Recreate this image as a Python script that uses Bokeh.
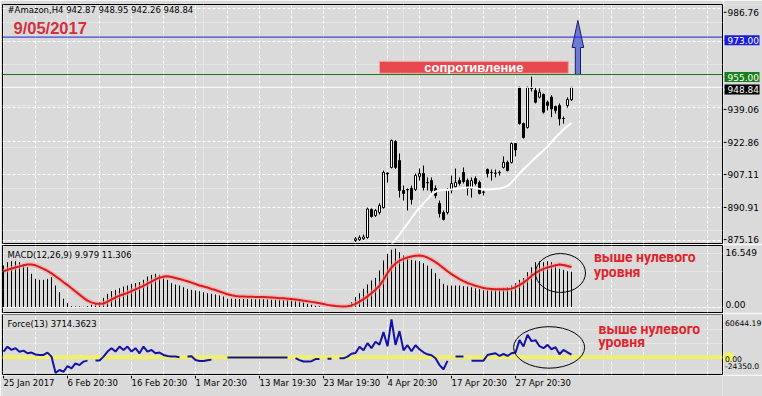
from bokeh.plotting import figure
from bokeh.models import Range1d, FixedTicker, Grid, Span, ColumnDataSource
from bokeh.layouts import column, row
from bokeh.embed import file_html
from bokeh.resources import INLINE
from bokeh.core.properties import value

NaN = float("nan")

# ---------------- data ----------------
symbol_header = "#Amazon,H4  942.87 948.95 942.26 948.84"
date_text = "9/05/2017"
macd_header = "MACD(12,26,9) 9.979 11.306"
force_header = "Force(13) 3714.3623"

candle_start = 88
c_open = [875.2, 875.5, 876.0, 876.6, 890.1, 887.2, 888.6, 891.0, 907.6, 910.3,
          922.8, 913.6, 899.2, 899.7, 900.2, 899.7, 906.0, 907.4, 903.1, 904.0,
          900.2, 893.0, 888.6, 888.6, 899.2, 901.1, 904.0, 907.9, 904.0, 900.2,
          905.0, 903.1, 898.5, 909.3, 907.9, 907.6, 907.9, 910.3, 912.8, 912.7,
          921.8, 948.8, 931.4, 929.5, 948.8, 947.3, 944.1, 945.4, 941.7, 944.1,
          939.6, 940.1, 933.9, 940.1, 942.87]
c_high = [876.8, 877.6, 878.0, 891.0, 890.6, 890.3, 893.0, 908.8, 907.9, 923.7,
          923.4, 917.0, 901.6, 900.2, 901.6, 907.4, 909.8, 911.2, 905.5, 905.5,
          901.6, 894.4, 889.6, 900.2, 906.4, 909.8, 905.5, 910.3, 905.0, 905.5,
          906.0, 904.0, 899.2, 909.8, 909.3, 909.3, 908.8, 915.6, 913.6, 922.3,
          922.1, 949.2, 931.9, 949.2, 954.0, 948.8, 948.3, 945.9, 942.5, 945.0,
          940.1, 941.1, 934.8, 944.0, 948.95]
c_low = [874.5, 875.0, 875.5, 876.0, 886.2, 886.5, 887.7, 890.5, 903.0, 909.8,
         909.5, 895.8, 894.4, 889.6, 892.5, 899.0, 904.0, 899.2, 899.2, 898.2,
         895.4, 886.2, 884.8, 887.7, 897.8, 900.7, 901.6, 902.6, 896.8, 895.8,
         901.6, 897.3, 896.8, 905.5, 904.0, 905.5, 906.4, 909.8, 908.4, 912.2,
         915.6, 930.9, 924.2, 929.0, 946.8, 941.1, 943.5, 936.2, 937.7, 934.5,
         936.2, 930.5, 931.4, 939.1, 942.26]
c_close = [876.0, 876.6, 876.9, 890.3, 886.7, 889.6, 892.0, 907.9, 907.2, 923.3,
           910.3, 899.2, 897.8, 899.5, 894.9, 906.4, 907.4, 900.7, 902.9, 899.2,
           896.8, 888.2, 885.3, 899.2, 902.6, 903.1, 902.6, 903.5, 900.2, 904.0,
           902.6, 897.8, 898.4, 907.4, 907.8, 907.5, 907.8, 912.8, 908.8, 921.8,
           918.7, 931.4, 924.7, 948.8, 948.3, 941.7, 946.5, 936.9, 940.1, 938.5,
           937.7, 933.7, 933.8, 943.0, 948.84]

ma_start = 97
ma_vals = [873.2, 875.6, 878.0, 880.7, 883.3, 886.0, 888.6, 890.8, 893.0, 895.1,
           897.3, 898.7, 899.2, 899.4, 899.5, 899.7, 900.0, 900.2, 900.4, 900.7,
           900.7, 900.4, 900.0, 899.7, 899.7, 899.8, 900.0, 900.2, 900.7, 901.4,
           903.1, 905.2, 907.4, 909.5, 911.2, 913.2, 915.1, 916.8, 918.5, 920.4,
           922.5, 924.7, 926.6, 928.6, 930.2, 931.7]

macd_main = [11.74, 12.67, 12.96, 12.96, 12.67, 12.02, 11.26, 9.39, 7.98, 7.69,
             7.69, 7.98, 8.43, 6.08, 4.19, 2.32, 1.07, 0.23, 0.14, 0.14,
             0.05, 0.23, 0.71, 0.91, 1.36, 2.60, 3.73, 4.47, 4.87, 5.32,
             5.80, 6.08, 6.56, 6.73, 7.02, 7.69, 8.63, 9.11, 9.39, 9.11,
             8.43, 7.69, 6.73, 6.37, 6.08, 5.60, 5.15, 4.87, 4.67, 4.47,
             4.19, 3.90, 3.73, 3.54, 3.25, 2.97, 2.32, 2.35, 2.32, 2.30,
             2.32, 2.28, 2.30, 2.27, 2.25, 2.22, 2.20, 2.12, 2.12, 2.10,
             2.04, 2.00, 1.92, 1.84, 1.64, 1.36, 0.91, 0.62, 0.34, 0.23,
             0.08, 0.02, 0.02, 0.02, 0.02, 0.14, 0.42, 1.36, 2.77, 3.90,
             5.15, 6.37, 7.50, 8.26, 10.33, 13.15, 15.05, 16.20, 16.549, 15.50,
             14.57, 13.64, 13.35, 13.15, 12.96, 12.39, 11.74, 10.81, 9.56, 7.98,
             6.56, 6.08, 6.08, 6.08, 6.08, 5.88, 5.80, 5.60, 5.32, 5.15,
             4.87, 4.87, 4.95, 5.04, 5.15, 5.43, 5.60, 6.08, 6.73, 7.69,
             8.15, 9.84, 11.26, 12.67, 12.96, 12.67, 12.96, 12.67, 11.74, 10.81,
             10.52, 10.13, 9.979]

macd_signal = [10.1, 10.5, 10.9, 11.2, 11.5, 11.8, 12.0, 12.0, 11.8, 11.3,
               10.8, 10.2, 9.5, 8.7, 7.9, 7.0, 6.2, 5.3, 4.4, 3.5,
               2.6, 1.8, 1.3, 0.95, 0.9, 1.0, 1.5, 2.1, 2.7, 3.2,
               3.6, 4.0, 4.5, 5.0, 5.5, 6.0, 6.6, 7.2, 7.8, 8.3,
               8.6, 8.7, 8.5, 8.2, 7.9, 7.6, 7.3, 6.9, 6.5, 6.1,
               5.8, 5.5, 5.1, 4.8, 4.4, 4.0, 3.6, 3.3, 3.1, 3.0,
               2.95, 2.9, 2.9, 2.85, 2.8, 2.8, 2.75, 2.7, 2.6, 2.5,
               2.45, 2.35, 2.25, 2.1, 1.95, 1.8, 1.6, 1.45, 1.25, 1.05,
               0.85, 0.6, 0.45, 0.3, 0.2, 0.15, 0.2, 0.45, 0.9, 1.5,
               2.2, 3.0, 3.9, 4.9, 6.0, 7.7, 9.6, 11.2, 12.3, 13.1,
               13.6, 14.0, 14.3, 14.5, 14.55, 14.4, 14.0, 13.4, 12.7, 11.9,
               11.0, 10.1, 9.3, 8.6, 7.9, 7.3, 6.8, 6.4, 6.0, 5.7,
               5.4, 5.2, 5.1, 5.0, 5.0, 5.0, 5.05, 5.2, 5.6, 6.2,
               6.9, 7.8, 8.8, 9.6, 10.3, 10.8, 11.2, 11.5, 11.8, 12.0,
               11.9, 11.6, 11.306]

force_vals = [8000, 15000, 10500, 13000, 8000, 9500, 5700, 6700, 4000, 3300,
              3300, 6700, 1000, -22000, -18000, -20400, -12400, -15700, -8600, -11000,
              -6100, -4700, NaN, -4500, -4500, 1000, 8100, 12900, 8100, 15300,
              10400, 15300, 8100, 12900, 5700, 15300, 8100, 10400, 5700, 6700,
              3300, 1900, 1000, 1000, 0, NaN, 1000, 1400, -3900, -5300,
              -5300, -4300, -3300, NaN, -2000, NaN, -400, -400, -400, -400,
              -400, -400, -400, -400, -400, -400, -400, -400, -400, -400,
              -400, -400, NaN, -1000, -4000, -6000, -6000, -5500, -2500, -2500,
              NaN, -2000, -2000, NaN, -1500, -1500, 1000, 5000, 6000, 15000,
              10000, 20000, 13000, 22000, 18000, 35700, 15700, 53600, 17600, 37100,
              10000, 17100, 8600, 17100, 11400, 7100, 4300, 2900, -1400, -11000,
              -17000, -5000, NaN, 1000, 1000, 1200, NaN, -4700, -4700, -4700,
              -4700, 3300, 4700, 5700, 1900, 4700, 1900, 5700, 6700, 24300,
              15300, 31900, 22900, 24300, 15700, 12900, 17600, 11400, 14300, 4300,
              10400, 7100, 3714.36]

x_tick_bars = [0, 16, 32, 48, 64, 80, 96, 112, 128]
x_tick_labels = ["25 Jan 2017", "6 Feb 20:30", "16 Feb 20:30", "1 Mar 20:30",
                 "13 Mar 19:30", "23 Mar 19:30", "4 Apr 20:30", "17 Apr 20:30",
                 "27 Apr 20:30"]
grid_bars = list(range(8, 180, 8))
price_ticks = [875.16, 890.91, 907.11, 922.86, 939.06, 986.76]
price_grid = [875.16, 890.91, 907.11, 922.86, 939.06, 971.01, 986.76]
level_blue = 973.00
level_green = 955.00
bid_price = 948.84
macd_max = 16.549
force_max = 60644.19
force_min = -24350.0

# ---------------- placement constants ----------------
x_start, x_end = -0.25, 179.75
main_lo, main_hi = 873.72, 988.68
macd_lo, macd_hi = -1.556, 17.40
res_left, res_right, res_bottom, res_top = 94.0, 141.2, 955.6, 961.3
res_text = "сопротивление"
arrow_x, arrow_base, arrow_neck, arrow_tip = 143.6, 955.0, 968.0, 981.0
note_line1, note_line2 = "выше нулевого", "уровня"
macd_note_x, macd_note_y = 147.6, (14.26, 10.0)
force_note_x, force_note_y = 148.75, (40660, 22240)
macd_ell = (139.25, 9.62, 12.5, 11.0)
force_ell = (136.4, 14000, 17.75, 58800)
head_x = 1.0
main_head_y, date_x, date_y = 985.8, 2.5, 977.3
macd_head_y = 14.85
force_head_y = 47170
macd_lab_y = (15.70, 0.42)
force_lab_y = (49300, -2700, -13030)

BG = "#dadada"
RED_TXT = "#e0232b"
FONT = "DejaVu Sans"
BFONT = "Liberation Sans"
DASH = "3 2"

W_LEFT, W_AX = 723, 39
H_MAIN, H_MACD, H_FORCE, H_XLAB = 244, 69, 62, 21
B_MAIN, B_MACD, B_FORCE = (4, 1), (1, 1), (1, 1)   # (top, bottom) borders

xr = Range1d(x_start, x_end)


def panel(height, lo, hi, border):
    p = figure(width=W_LEFT, height=height, x_range=xr, y_range=Range1d(lo, hi),
               output_backend="svg", toolbar_location=None, tools="",
               x_axis_location=None, y_axis_location=None,
               background_fill_color=BG, border_fill_color=BG,
               outline_line_color="black", outline_line_width=1,
               min_border_left=2, min_border_right=1,
               min_border_top=border[0], min_border_bottom=border[1])
    p.add_layout(Grid(dimension=0, ticker=FixedTicker(ticks=grid_bars),
                      grid_line_color="white", grid_line_dash=DASH))
    return p


def axis_panel(height, lo, hi, border):
    frame = height - border[0] - border[1]
    s = (hi - lo) / frame
    p = figure(width=W_AX, height=height, x_range=Range1d(0, W_AX),
               y_range=Range1d(lo - border[1] * s, hi + border[0] * s),
               output_backend="svg", toolbar_location=None, tools="",
               x_axis_location=None, y_axis_location=None,
               background_fill_color=BG, border_fill_color=BG,
               outline_line_color=None,
               min_border_left=0, min_border_right=0,
               min_border_top=0, min_border_bottom=0)
    p.xgrid.visible = False
    p.ygrid.visible = False
    return p


def ax_text(p, ys, texts, color="black", size="9px", x=4):
    p.text(x=[x] * len(ys), y=ys, text=texts, text_font=value(FONT),
           text_font_size=size, text_color=color, text_align="left",
           text_baseline="middle")


# ---------------- main price panel ----------------
main = panel(H_MAIN, main_lo, main_hi, B_MAIN)
main.add_layout(Grid(dimension=1, ticker=FixedTicker(ticks=price_grid),
                     grid_line_color="white", grid_line_dash=DASH))
for lvl, col in [(level_blue, "#2222d4"), (level_green, "#1a761a"), (bid_price, "white")]:
    main.add_layout(Span(location=lvl, dimension="width", line_color=col, line_width=1))

bars = list(range(candle_start, candle_start + len(c_open)))
body_top = [max(o, c) for o, c in zip(c_open, c_close)]
body_bot = [min(o, c) for o, c in zip(c_open, c_close)]
body_col = ["white" if c >= o else "black" for o, c in zip(c_open, c_close)]
csrc = ColumnDataSource(dict(x=bars, hi=c_high, lo=c_low, top=body_top,
                             bot=body_bot, col=body_col))
main.segment(x0="x", y0="lo", x1="x", y1="hi", source=csrc, line_color="black", line_width=1)
main.vbar(x="x", width=0.5, top="top", bottom="bot", source=csrc,
          fill_color="col", line_color="black", line_width=1)

ma_x = list(range(ma_start, ma_start + len(ma_vals)))
main.line(ma_x, ma_vals, line_color="white", line_width=2)

main.quad(left=res_left, right=res_right, bottom=res_bottom, top=res_top,
          fill_color="#e6484e", line_color="#f3a0a0", line_width=1)
main.text(x=[(res_left + res_right) / 2], y=[(res_bottom + res_top) / 2], text=[res_text],
          text_font=value(BFONT), text_font_style="bold", text_font_size="13px",
          text_color="white", text_align="center", text_baseline="middle")

sh, hh = 0.65, 1.45
main.patch([arrow_x - sh, arrow_x - sh, arrow_x - hh, arrow_x, arrow_x + hh, arrow_x + sh, arrow_x + sh],
           [arrow_base, arrow_neck, arrow_neck, arrow_tip, arrow_neck, arrow_neck, arrow_base],
           fill_color="#6d7bd6", line_color="#1c1c5c", line_width=1)

main.text(x=[head_x], y=[main_head_y], text=[symbol_header], text_font=value(FONT),
          text_font_size="8.5px", text_color="black", text_baseline="middle")
main.text(x=[date_x], y=[date_y], text=[date_text], text_font=value(BFONT),
          text_font_style="bold", text_font_size="16.5px", text_color="#d4303a",
          text_baseline="middle")

main_ax = axis_panel(H_MAIN, main_lo, main_hi, B_MAIN)
main_ax.segment(x0=[0] * len(price_ticks), y0=price_ticks, x1=[3] * len(price_ticks),
                y1=price_ticks, line_color="black", line_width=1)
ax_text(main_ax, price_ticks, [f"{t:.2f}" for t in price_ticks])
lv = [level_blue, level_green, bid_price]
main_ax.rect(x=[18.5] * 3, y=lv, width=[35] * 3, height=[10] * 3, height_units="screen",
             fill_color=["#1c1cd8", "#1a7f1a", "black"], line_color=None)
main_ax.segment(x0=[0] * 3, y0=lv, x1=[1] * 3, y1=lv,
                line_color=["#2222d4", "#1a761a", "white"], line_width=1)
ax_text(main_ax, lv, [f"{v:.2f}" for v in lv], color="white")

# ---------------- MACD panel ----------------
macd = panel(H_MACD, macd_lo, macd_hi, B_MACD)
macd.add_layout(Grid(dimension=1, ticker=FixedTicker(ticks=[0]),
                     grid_line_color="white", grid_line_dash=DASH))
mx = list(range(len(macd_main)))
macd.segment(x0=mx, y0=[0] * len(mx), x1=mx, y1=macd_main, line_color="black", line_width=1)
macd.line(mx, macd_signal, line_color="#f2a5a5", line_width=5, line_alpha=0.6)
macd.line(mx, macd_signal, line_color="#dd1a1a", line_width=2)
macd.ellipse(x=[macd_ell[0]], y=[macd_ell[1]], width=[macd_ell[2]], height=[macd_ell[3]],
             fill_color=None, line_color="black", line_width=1)
macd.text(x=[head_x], y=[macd_head_y], text=[macd_header], text_font=value(FONT),
          text_font_size="8.5px", text_color="black", text_baseline="middle")
macd.text(x=[macd_note_x] * 2, y=list(macd_note_y), text=[note_line1, note_line2],
          text_font=value("Roboto"), text_font_style="bold", text_font_size="14px",
          text_color=RED_TXT, text_baseline="middle")

macd_ax = axis_panel(H_MACD, macd_lo, macd_hi, B_MACD)
ax_text(macd_ax, list(macd_lab_y), [f"{macd_max:.3f}", "0.00"], x=2)

# ---------------- Force panel ----------------
force = panel(H_FORCE, force_min, force_max, B_FORCE)
force.add_layout(Span(location=0, dimension="width", line_color="#f0f06c",
                      line_width=4, level="underlay"))
fx = list(range(len(force_vals)))
force.line(fx, force_vals, line_color="#1212a6", line_width=2)
force.ellipse(x=[force_ell[0]], y=[force_ell[1]], width=[force_ell[2]], height=[force_ell[3]],
              fill_color=None, line_color="black", line_width=1)
force.text(x=[head_x], y=[force_head_y], text=[force_header], text_font=value(FONT),
           text_font_size="8.5px", text_color="black", text_baseline="middle")
force.text(x=[force_note_x] * 2, y=list(force_note_y), text=[note_line1, note_line2],
           text_font=value("Roboto"), text_font_style="bold", text_font_size="14px",
           text_color=RED_TXT, text_baseline="middle")

force_ax = axis_panel(H_FORCE, force_min, force_max, B_FORCE)
force_ax.rect(x=[5], y=[0], width=[10], height=[9], height_units="screen",
              fill_color="#f0f06c", line_color=None)
ax_text(force_ax, list(force_lab_y),
        [f"{force_max:.2f}", "0.00", f"{force_min:.1f}"], size="7.6px", x=1.5)

# ---------------- time labels ----------------
xlab = figure(width=W_LEFT + W_AX, height=H_XLAB, x_range=xr, y_range=Range1d(0, H_XLAB),
              output_backend="svg", toolbar_location=None, tools="",
              x_axis_location=None, y_axis_location=None,
              background_fill_color=BG, border_fill_color=BG, outline_line_color=None,
              min_border_left=2, min_border_right=W_AX + 1,
              min_border_top=0, min_border_bottom=0)
xlab.xgrid.visible = False
xlab.ygrid.visible = False
n = len(x_tick_bars)
xlab.segment(x0=x_tick_bars, y0=[H_XLAB] * n, x1=x_tick_bars, y1=[H_XLAB - 3] * n,
             line_color="black", line_width=1)
xlab.text(x=x_tick_bars, y=[H_XLAB - 7] * n, text=x_tick_labels, text_font=value(FONT),
          text_font_size="8.5px", text_color="black", text_align="left",
          text_baseline="middle")

layout = column(row(main, main_ax, spacing=0), row(macd, macd_ax, spacing=0),
                row(force, force_ax, spacing=0), xlab, spacing=0)
open("out.html", "w").write(file_html(layout, INLINE))
